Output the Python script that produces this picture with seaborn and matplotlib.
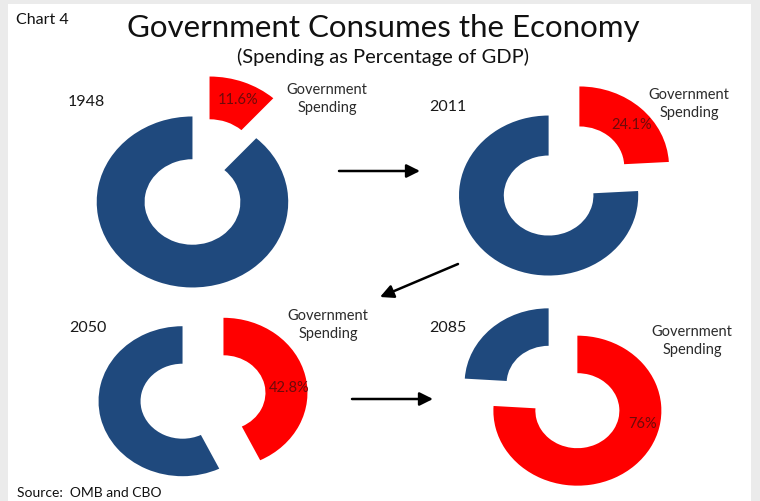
import matplotlib
matplotlib.use("Agg")
import matplotlib.pyplot as plt
import matplotlib.patches as mpatches
import seaborn as sns
import numpy as np

# Government spending as a share of GDP
years = ["1948", "2011", "2050", "2085"]
gov_spending = [11.6, 24.1, 42.8, 76.0]
slice_names = ["Government\nSpending"] * 4

sns.set_theme(style="white")
plt.rcParams["font.family"] = ["Lato", "DejaVu Sans"]

RED = "#FF0000"
BLUE = "#1F497D"
LABEL_RED = "#6E0A0A"

W, H = 760, 502
SX = 1.12  # horizontal stretch of the donuts


def to_data(x, y):
    return x / SX, H - y


fig = plt.figure(figsize=(W / 100, H / 100), dpi=100, facecolor="#ebebeb")
ax = fig.add_axes([0, 0, 1, 1])
ax.patch.set_alpha(0)
# white chart panel
ax.add_patch(mpatches.Rectangle((8 / W, 0), 743 / W, (H - 5) / H,
                                transform=ax.transAxes, facecolor="white",
                                edgecolor="none", zorder=-10))

# layout of the four donuts: centre (px), radius (px), label angle
centers = [(201, 183), (564, 182), (203, 398), (563, 398)]
radii = [85.5, 80, 75, 75]
label_angles = [22, 48, 84.5, 102]
year_pos = [(86, 102), (448, 107), (88, 328), (448, 328)]
name_pos = [(327, 99), (689, 104), (328, 325), (692, 341)]

for share, (cx, cy), r, la in zip(gov_spending, centers, radii, label_angles):
    c = to_data(cx, cy)
    ex = 0.25 * r
    ax.pie([share, 100 - share], colors=[RED, BLUE], startangle=90,
           counterclock=False, radius=r, center=c, explode=[ex, ex],
           frame=True,
           wedgeprops=dict(width=0.5 * r, edgecolor="none", linewidth=0))
    mid = np.deg2rad(share / 100 * 360 / 2)
    rc = (c[0] + ex * np.sin(mid), c[1] + ex * np.cos(mid))
    a = np.deg2rad(la)
    lx = rc[0] + 0.79 * r * np.sin(a)
    ly = rc[1] + 0.79 * r * np.cos(a)
    ax.text(lx, ly, f"{share:g}%", ha="center", va="center",
            fontsize=10.5, color=LABEL_RED)

for yr, (x, y) in zip(years, year_pos):
    ax.text(*to_data(x, y), yr, ha="center", va="center", fontsize=11.5,
            color="#1a1a1a")

for name, (x, y) in zip(slice_names, name_pos):
    ax.text(*to_data(x, y), name, ha="center", va="center", fontsize=10.5,
            color="#2b2b2b", linespacing=1.4)

# arrows linking the years
arrows = [((339, 172), (420, 172)), ((458, 265), (380, 298)),
          ((352, 400), (433, 400))]
for (x0, y0), (x1, y1) in arrows:
    ax.annotate("", xy=to_data(x1, y1), xytext=to_data(x0, y0),
                arrowprops=dict(arrowstyle="-|>", color="black", lw=1.8,
                                mutation_scale=20, shrinkA=0, shrinkB=0))

ax.text(*to_data(383, 28), "Government Consumes the Economy", ha="center",
        va="center", fontsize=22.5, color="#111111")
ax.text(*to_data(383, 57), "(Spending as Percentage of GDP)", ha="center",
        va="center", fontsize=14.5, color="#111111")
ax.text(*to_data(16, 20), "Chart 4", ha="left", va="center", fontsize=11.5,
        color="#111111")
ax.text(*to_data(17, 493), "Source:  OMB and CBO", ha="left", va="center",
        fontsize=10, color="#111111")

ax.set_aspect("auto")
ax.set_xlim(0, W / SX)
ax.set_ylim(0, H)
ax.axis("off")

fig.savefig("out.png", dpi=100, facecolor=fig.get_facecolor())
